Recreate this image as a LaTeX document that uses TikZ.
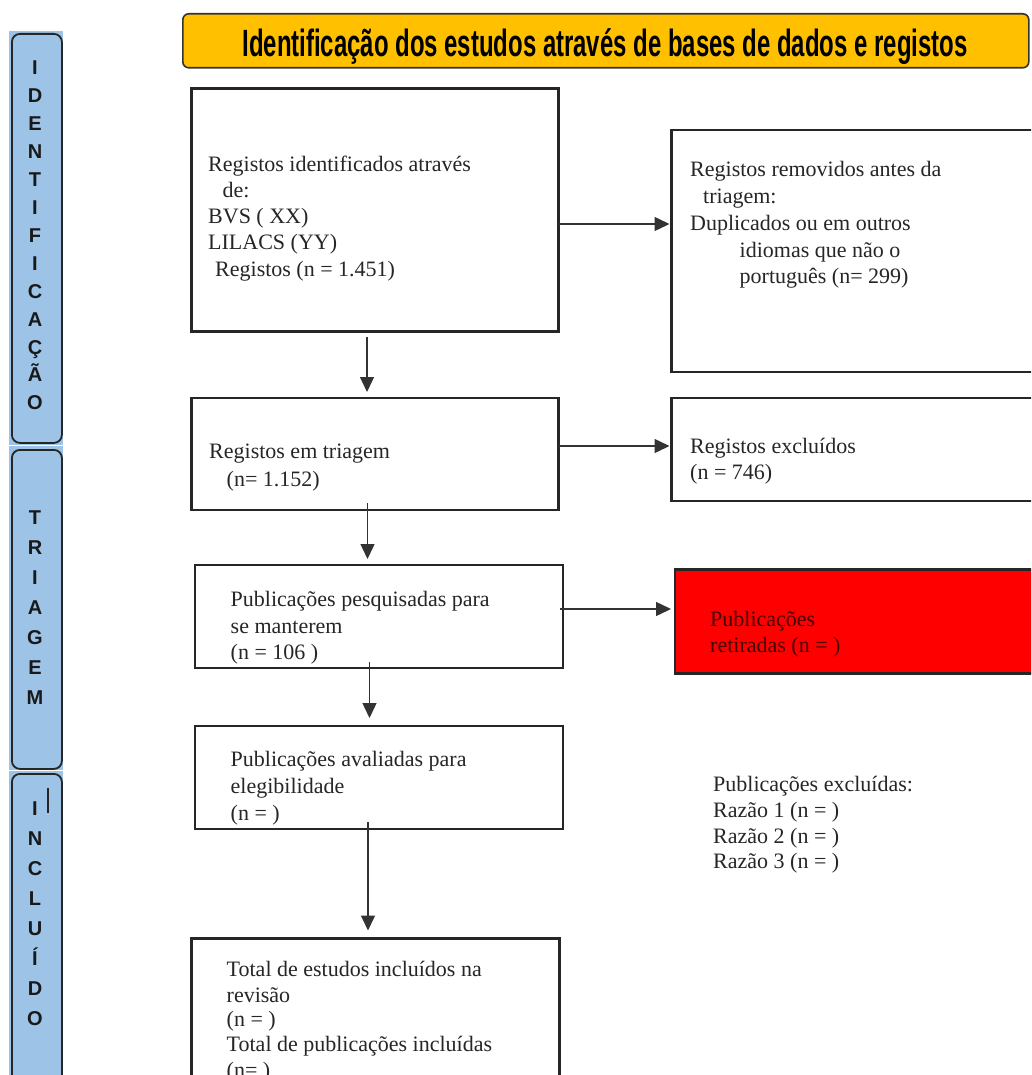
\documentclass[tikz,border=0pt]{standalone}
\usepackage{fontspec}
\setmainfont{Liberation Serif}
\setsansfont{Liberation Sans}
\usetikzlibrary{arrows.meta,calc}
\definecolor{amber}{RGB}{255,192,0}
\definecolor{barblue}{RGB}{157,195,230}
\definecolor{darkred}{RGB}{70,0,0}
\begin{document}
\begin{tikzpicture}[x=1pt,y=-1pt,
  box/.style={draw=black!85,line width=2.1pt,fill=white,anchor=north west,inner sep=0,outer sep=0},
  txt/.style={anchor=base west,inner sep=0,font=\fontsize{22}{26}\selectfont,text=black!85},
  arr/.style={draw=black!80,line width=1.4pt,-{Triangle[length=15pt,width=14pt]}},
  bar/.style={draw=black!85,line width=1.8pt,rounded corners=8pt,anchor=north west,inner sep=0,minimum width=50pt},
  bartxt/.style={font=\sffamily\bfseries\fontsize{20}{20}\selectfont,inner sep=0,anchor=base,text=black!90},
  ]
\clip (0,0) rectangle (1031,1075);
\fill[white] (0,0) rectangle (1031,1075);

% title
\node[draw=black!80,line width=1.6pt,fill=amber,rounded corners=6pt,anchor=north west,
      minimum width=846pt,minimum height=54pt,inner sep=0] (title) at (182,13) {};
\node[anchor=base,inner sep=0] (titletext) at (605,57)
  {\scalebox{0.63}[1]{\sffamily\bfseries\fontsize{38}{38}\selectfont Identificação dos estudos através de bases de dados e registos}};

% side bars
\fill[barblue] (9,31) rectangle (63,445);
\node[bar,fill=barblue,minimum height=409pt] (bar1) at (11,33) {};
\fill[barblue] (9,446) rectangle (63,770);
\node[bar,fill=barblue,minimum height=319pt] (bar2) at (11,449) {};
\fill[barblue] (9,771) rectangle (63,1080);
\node[bar,fill=barblue,minimum height=320pt] (bar3) at (11,773) {};

\foreach \c [count=\i from 0] in {I,D,E,N,T,I,F,I,C,A,Ç,Ã,O}
  \node[bartxt] (ida\i) at (35,{75+27.9*\i}) {\c};
\foreach \c [count=\i from 0] in {T,R,I,A,G,E,M}
  \node[bartxt] (tri\i) at (35,{524+30*\i}) {\c};
\foreach \c [count=\i from 0] in {I,N,C,L,U,Í,D,O}
  \node[bartxt] (inc\i) at (35,{815+30*\i}) {\c};
\draw[line width=2pt,black!85] (47.5,788) -- (47.5,813);

% boxes
\node[box,minimum width=367pt,minimum height=243pt] (A) at (191.5,88.5) {};
\node[box,minimum width=380pt,minimum height=242pt] (B) at (671.5,130) {};
\node[box,minimum width=367pt,minimum height=112pt] (C) at (191.5,398) {};
\node[box,minimum width=380pt,minimum height=103pt] (D) at (671.5,398) {};
\node[box,minimum width=368pt,minimum height=103pt] (E) at (195,565) {};
\node[box,fill=red,minimum width=380pt,minimum height=104pt] (F) at (675,569.5) {};
\node[box,minimum width=368pt,minimum height=103pt] (G) at (195,726) {};
\node[box,minimum width=368pt,minimum height=200pt] (H) at (191.5,938.5) {};

% texts
\node[txt] (a1) at (208,172) {Registos identificados através};
\node[txt] (a2) at (222.5,198) {de:};
\node[txt] (a3) at (208,224) {BVS ( XX)};
\node[txt] (a4) at (208,250) {LILACS (YY)};
\node[txt] (a5) at (215,276) {Registos (n = 1.451)};

\node[txt] (b1) at (690,177) {Registos removidos antes da};
\node[txt] (b2) at (703,204) {triagem:};
\node[txt] (b3) at (690,230) {Duplicados ou em outros};
\node[txt] (b4) at (739.5,257) {idiomas que não o};
\node[txt] (b5) at (739.5,283) {português (n= 299)};

\node[txt] (c1) at (209,458.5) {Registos em triagem};
\node[txt] (c2) at (226.5,486) {(n= 1.152)};

\node[txt] (d1) at (690,453.5) {Registos excluídos};
\node[txt] (d2) at (690,479.5) {(n = 746)};

\node[txt] (e1) at (230.5,606.5) {Publicações pesquisadas para};
\node[txt] (e2) at (230.5,633) {se manterem};
\node[txt] (e3) at (230.5,659) {(n = 106 )};

\node[txt,text=darkred] (f1) at (710,626) {Publicações};
\node[txt,text=darkred] (f2) at (710,652) {retiradas (n = )};

\node[txt] (g1) at (230.5,766.5) {Publicações avaliadas para};
\node[txt] (g2) at (230.5,793) {elegibilidade};
\node[txt] (g3) at (230.5,820.5) {(n = )};

\node[txt] (h1) at (226.5,976.5) {Total de estudos incluídos na};
\node[txt] (h2) at (226.5,1002.5) {revisão};
\node[txt] (h3) at (226.5,1026) {(n = )};
\node[txt] (h4) at (226.5,1051.5) {Total de publicações incluídas};
\node[txt] (h5) at (226.5,1077) {(n= )};

\node[txt] (x1) at (713,791.5) {Publicações excluídas:};
\node[txt] (x2) at (713,817) {Razão 1 (n = )};
\node[txt] (x3) at (713,843) {Razão 2 (n = )};
\node[txt] (x4) at (713,868.5) {Razão 3 (n = )};

% connectors
\draw[arr] (A.east |- 0,224) -- ($(B.west |- 0,224)+(-2,0)$);
\draw[arr] ($(A.south -| 367,0)+(0,5)$) -- ($(C.north -| 367,0)+(0,-6)$);
\draw[arr] (C.east |- 0,446) -- ($(D.west |- 0,446)+(-2,0)$);
\draw[arr] ($(C.south -| 367.5,0)+(0,-7)$) -- ($(E.north -| 367.5,0)+(0,-6)$);
\draw[arr] ($(E.east |- 0,609)+(-3,0)$) -- ($(F.west |- 0,609)+(-4,0)$);
\draw[arr] ($(E.south -| 369.5,0)+(0,-6)$) -- ($(G.north -| 369.5,0)+(0,-8)$);
\draw[arr] ($(G.south -| 368,0)+(0,-7)$) -- ($(H.north -| 368,0)+(0,-8)$);
\end{tikzpicture}
\end{document}
